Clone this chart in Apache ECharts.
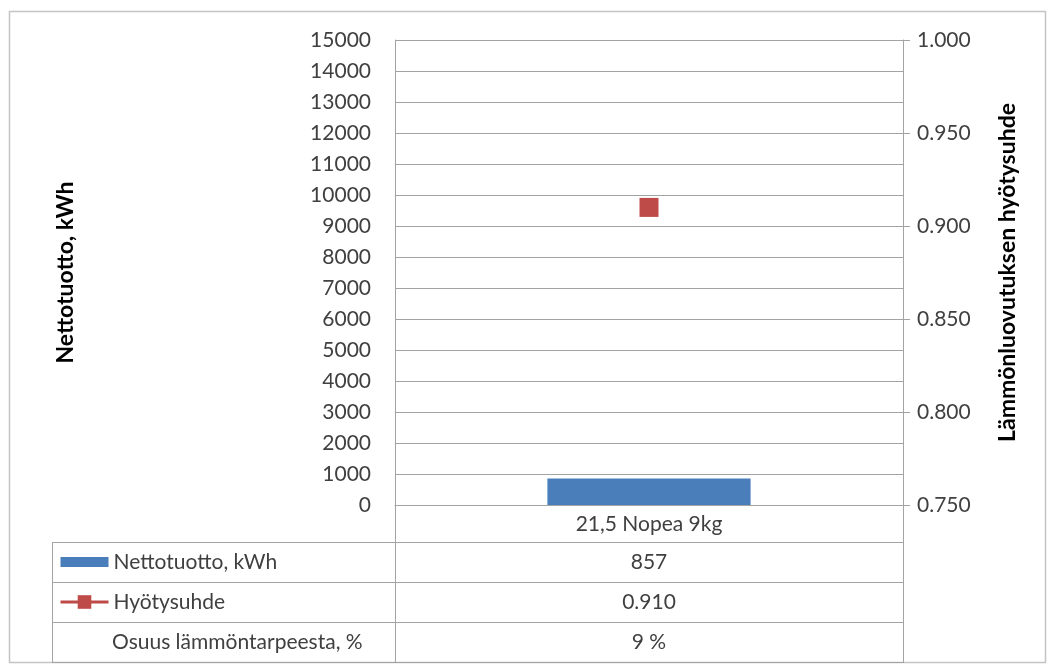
<!DOCTYPE html>
<html>
<head>
<meta charset="utf-8">
<script src="https://cdn.jsdelivr.net/npm/echarts@6/dist/echarts.min.js"></script>
<style>
html,body{margin:0;padding:0;background:#fff;}
#chart{width:1048px;height:666px;}
</style>
</head>
<body>
<div id="chart"></div>
<script>
// ---- data ----
const categories = ["21,5 Nopea 9kg"];
const nettotuotto = [857];
const hyotysuhde = [0.910];
const osuus = ["9 %"];
const seriesNames = ["Nettotuotto, kWh", "Hyötysuhde"];
const tableRowLabels = ["Nettotuotto, kWh", "Hyötysuhde", "Osuus lämmöntarpeesta, %"];
const leftAxisTitle = "Nettotuotto, kWh";
const rightAxisTitle = "Lämmönluovutuksen hyötysuhde";

const FONT = "Lato, 'Open Sans', sans-serif";
const FS = 21;
const TXT = "#404040";
const LINE = "#a3a3a3";

const gridL = 395, gridR = 903, gridT = 40, gridB = 505;
const rowY = [542, 582, 622, 662];

const chart = echarts.init(document.getElementById('chart'), null, {renderer: 'canvas'});

const graphics = [];
// outer border
graphics.push({type:'rect', shape:{x:9.5, y:11.5, width:1036, height:651}, style:{fill:null, stroke:'#c4c4c4', lineWidth:1.5}, silent:true});
// vertical table lines extending below plot
graphics.push({type:'line', shape:{x1:gridL+0.5, y1:gridB, x2:gridL+0.5, y2:rowY[3]}, style:{stroke:LINE, lineWidth:1}});
graphics.push({type:'line', shape:{x1:gridR+0.5, y1:gridB, x2:gridR+0.5, y2:rowY[3]}, style:{stroke:LINE, lineWidth:1}});
graphics.push({type:'line', shape:{x1:52.5, y1:rowY[0], x2:52.5, y2:rowY[3]}, style:{stroke:LINE, lineWidth:1}});
rowY.forEach(y => {
  graphics.push({type:'line', shape:{x1:52, y1:y+0.5, x2:gridR+1, y2:y+0.5}, style:{stroke:LINE, lineWidth:1}});
});
// table row values
const cellValues = [String(nettotuotto[0]), hyotysuhde[0].toFixed(3), osuus[0]];
cellValues.forEach((v,i) => {
  graphics.push({type:'text', x:(gridL+gridR)/2, y:(rowY[i]+rowY[i+1])/2, style:{text:v, fill:TXT, font:FS+'px '+FONT, align:'center', verticalAlign:'middle'}});
});
// third row label (no legend key)
graphics.push({type:'text', x:112, y:(rowY[2]+rowY[3])/2, style:{text:tableRowLabels[2], fill:TXT, font:FS+'px '+FONT, align:'left', verticalAlign:'middle'}});

// bar key: a 48x10 rectangle inside a 16px tall box (zero-area slivers set the box)
const barKeyIcon = 'path://M0,0L48,0L48,0.01Z M0,3L48,3L48,13L0,13Z M0,16L48,16L48,15.99Z';

chart.setOption({
  animation:false,
  backgroundColor:'#ffffff',
  grid:{left:gridL, right:1048-gridR, top:gridT, bottom:666-gridB, containLabel:false},
  legend:{
    orient:'vertical', left:59, top:551, itemGap:18, itemWidth:48, itemHeight:17, padding:0,
    data:[{name:seriesNames[0], icon:barKeyIcon}, {name:seriesNames[1], lineStyle:{width:3, color:'#be4b48'}}],
    lineStyle:{width:3},
    textStyle:{color:TXT, fontSize:FS, fontFamily:FONT, lineHeight:22}
  },
  xAxis:{
    type:'category', data:categories, boundaryGap:true,
    axisLine:{show:true, lineStyle:{color:LINE}},
    axisTick:{show:false},
    axisLabel:{color:TXT, fontSize:FS, fontFamily:FONT, margin:9},
    splitLine:{show:false}
  },
  yAxis:[
    {
      type:'value', min:0, max:15000, interval:1000, position:'left',
      name:leftAxisTitle, nameLocation:'middle', nameRotate:90, nameGap:318,
      nameTextStyle:{color:'#000', fontSize:23, fontWeight:'bold', fontFamily:FONT},
      axisLine:{show:true, lineStyle:{color:LINE}},
      axisTick:{show:false},
      axisLabel:{color:TXT, fontSize:FS, fontFamily:FONT, margin:24, formatter:v=>String(v)},
      splitLine:{show:true, lineStyle:{color:LINE, width:1}}
    },
    {
      type:'value', min:0.75, max:1, interval:0.05, position:'right',
      name:rightAxisTitle, nameLocation:'middle', nameRotate:90, nameGap:93,
      nameTextStyle:{color:'#000', fontSize:23, fontWeight:'bold', fontFamily:FONT},
      axisLine:{show:true, lineStyle:{color:LINE}},
      axisTick:{show:true, inside:false, length:7, lineStyle:{color:LINE}},
      axisLabel:{color:TXT, fontSize:FS, fontFamily:FONT, margin:14, formatter:v=>v.toFixed(3)},
      splitLine:{show:false}
    }
  ],
  series:[
    {
      name:seriesNames[0], type:'bar', data:nettotuotto, barWidth:'40%', yAxisIndex:0,
      itemStyle:{color:'#4a7ebb'}
    },
    {
      name:seriesNames[1], type:'line', data:hyotysuhde, yAxisIndex:1,
      symbol:'rect', symbolSize:19,
      itemStyle:{color:'#be4b48'}, lineStyle:{color:'#be4b48', width:3}
    }
  ],
  graphic:graphics
});
</script>
</body>
</html>
